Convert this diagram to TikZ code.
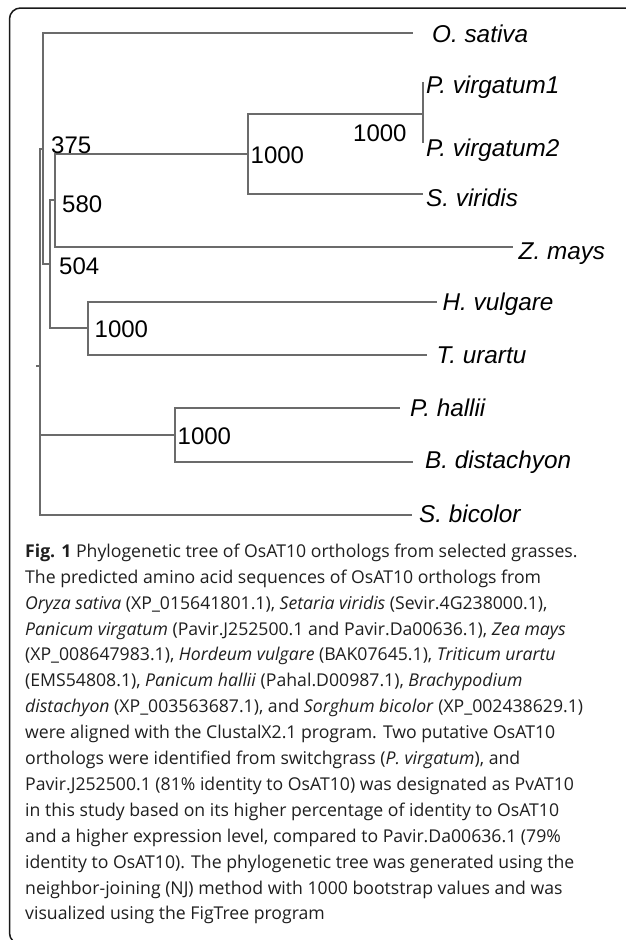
\documentclass[tikz,border=0pt]{standalone}
\usepackage{fontspec}
\newfontfamily\treefont{Liberation Sans}
\newfontfamily\capfont{Open Sans}
\begin{document}
\begin{tikzpicture}[x=1pt,y=-1pt,
  branch/.style={draw=black!58, line width=1.1pt},
  leaf/.style={anchor=base west, inner sep=0pt, font=\treefont\itshape\fontsize{24.3}{28}\selectfont},
  boot/.style={anchor=base west, inner sep=0pt, font=\treefont\fontsize{24}{28}\selectfont},
  capline/.style={anchor=base west, inner sep=0pt, text=black!88, font=\capfont\fontsize{17.65}{26}\selectfont},
  frame/.style={draw=black!90, line width=1.5pt, rounded corners=11pt}]
\useasboundingbox (0,0) rectangle (625,940);
\fill[white] (0,0) rectangle (625,940);
\draw[frame] (628,8) -- (9.5,8) -- (9.5,944) -- (628,944);

% internal nodes
\coordinate (rs) at (36,366);
\coordinate (R) at (40,366);
\coordinate (A) at (43,149);
\coordinate (B) at (50,264);
\coordinate (C) at (55,200);
\coordinate (D) at (248,154);
\coordinate (E) at (423,114);
\coordinate (F) at (88,328);
\coordinate (G) at (175,435);
% leaf tips
\coordinate (tos) at (413,33);
\coordinate (tpv1) at (423,82);
\coordinate (tpv2) at (423,143);
\coordinate (tsv) at (423,194);
\coordinate (tzm) at (513,247);
\coordinate (thv) at (437,302);
\coordinate (ttu) at (427,355);
\coordinate (tph) at (400,408);
\coordinate (tbd) at (413,462);
\coordinate (tsb) at (412,515);

% branches
\draw[branch] (rs) -- (R);
\draw[branch] (R) |- (A);
\draw[branch] (R) |- (G);
\draw[branch] (R) |- (tsb);
\draw[branch] (A) |- (tos);
\draw[branch] (A) |- (B);
\draw[branch] (B) |- (C);
\draw[branch] (B) |- (F);
\draw[branch] (C) |- (D);
\draw[branch] (C) |- (tzm);
\draw[branch] (D) |- (E);
\draw[branch] (D) |- (tsv);
\draw[branch] (E) -- (tpv1);
\draw[branch] (E) -- (tpv2);
\draw[branch] (F) |- (thv);
\draw[branch] (F) |- (ttu);
\draw[branch] (G) |- (tph);
\draw[branch] (G) |- (tbd);

% leaf labels
\node[leaf] (los) at (432,42.5) {O. sativa};
\node[leaf] (lpv1) at (426,93) {P. virgatum1};
\node[leaf] (lpv2) at (426,156) {P. virgatum2};
\node[leaf] (lsv) at (426,206.5) {S. viridis};
\node[leaf] (lzm) at (518.5,259) {Z. mays};
\node[leaf] (lhv) at (442.5,310) {H. vulgare};
\node[leaf] (ltu) at (436.5,363) {T. urartu};
\node[leaf] (lph) at (410,416.5) {P. hallii};
\node[leaf] (lbd) at (425,468) {B. distachyon};
\node[leaf] (lsb) at (419,522.5) {S. bicolor};

% bootstrap labels
\node[boot] (b375) at (51,153) {375};
\node[boot] (b580) at (62,212) {580};
\node[boot] (b504) at (59,274) {504};
\node[boot] (bD) at (250.5,163) {1000};
\node[boot] (bE) at (353,141) {1000};
\node[boot] (bF) at (94.5,337) {1000};
\node[boot] (bG) at (177.5,444) {1000};

% caption
\node[capline] (c1) at (25,557.3) {\textbf{Fig. 1} Phylogenetic tree of OsAT10 orthologs from selected grasses.};
\node[capline] (c2) at (25,583.2) {The predicted amino acid sequences of OsAT10 orthologs from};
\node[capline] (c3) at (25,609.1) {\textit{Oryza sativa} (XP\_015641801.1), \textit{Setaria viridis} (Sevir.4G238000.1),};
\node[capline] (c4) at (25,635.0) {\textit{Panicum virgatum} (Pavir.J252500.1 and Pavir.Da00636.1), \textit{Zea mays}};
\node[capline] (c5) at (25,660.9) {(XP\_008647983.1), \textit{Hordeum vulgare} (BAK07645.1), \textit{Triticum urartu}};
\node[capline] (c6) at (25,686.8) {(EMS54808.1), \textit{Panicum hallii} (Pahal.D00987.1), \textit{Brachypodium}};
\node[capline] (c7) at (25,712.7) {\textit{distachyon} (XP\_003563687.1), and \textit{Sorghum bicolor} (XP\_002438629.1)};
\node[capline] (c8) at (25,738.6) {were aligned with the ClustalX2.1 program. Two putative OsAT10};
\node[capline] (c9) at (25,764.5) {orthologs were identified from switchgrass (\textit{P. virgatum}), and};
\node[capline] (c10) at (25,790.4) {Pavir.J252500.1 (81\% identity to OsAT10) was designated as PvAT10};
\node[capline] (c11) at (25,816.3) {in this study based on its higher percentage of identity to OsAT10};
\node[capline] (c12) at (25,842.2) {and a higher expression level, compared to Pavir.Da00636.1 (79\%};
\node[capline] (c13) at (25,868.1) {identity to OsAT10). The phylogenetic tree was generated using the};
\node[capline] (c14) at (25,894.0) {neighbor-joining (NJ) method with 1000 bootstrap values and was};
\node[capline] (c15) at (25,919.9) {visualized using the FigTree program};
\end{tikzpicture}
\end{document}
